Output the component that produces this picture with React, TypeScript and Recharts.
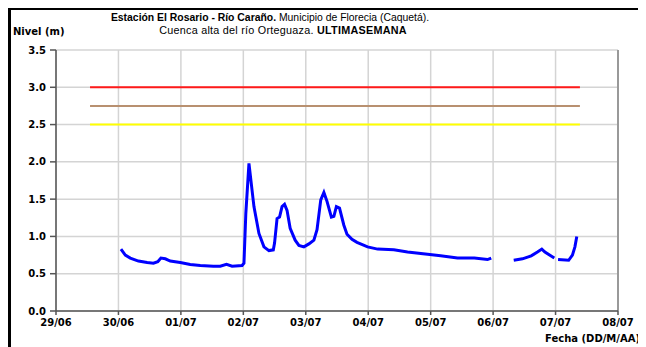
import React from 'react';
import { LineChart, Line, XAxis, YAxis, CartesianGrid, ReferenceLine } from 'recharts';

// Days elapsed since 29/06 00:00
const dias = [1.04, 1.11, 1.19, 1.32, 1.46, 1.56, 1.63, 1.68, 1.75, 1.83, 1.99, 2.15, 2.31, 2.52, 2.63, 2.73, 2.82, 2.98, 3.01, 3.04, 3.09, 3.17, 3.25, 3.33, 3.41, 3.48, 3.5, 3.54, 3.58, 3.62, 3.66, 3.7, 3.75, 3.83, 3.89, 3.97, 4.05, 4.13, 4.18, 4.24, 4.29, 4.34, 4.41, 4.45, 4.49, 4.54, 4.61, 4.66, 4.74, 4.82, 4.99, 5.15, 5.41, 5.63, 5.95, 6.16, 6.43, 6.7, 6.91, 6.97, 7.15, 7.33, 7.47, 7.61, 7.71, 7.78, 7.83, 7.98, 8.01, 8.04, 8.21, 8.27, 8.31, 8.34];
const nivel: (number | null)[] = [0.83, 0.75, 0.71, 0.67, 0.65, 0.64, 0.66, 0.71, 0.7, 0.67, 0.65, 0.625, 0.61, 0.6, 0.6, 0.625, 0.6, 0.61, 0.64, 1.31, 1.98, 1.4, 1.04, 0.86, 0.81, 0.82, 0.91, 1.24, 1.26, 1.4, 1.43, 1.35, 1.11, 0.95, 0.88, 0.86, 0.9, 0.95, 1.09, 1.49, 1.59, 1.47, 1.26, 1.27, 1.4, 1.38, 1.15, 1.03, 0.96, 0.92, 0.86, 0.83, 0.82, 0.79, 0.76, 0.74, 0.71, 0.71, 0.69, 0.71, null, 0.68, 0.7, 0.74, 0.79, 0.83, 0.79, 0.71, null, 0.69, 0.68, 0.75, 0.86, 1.0];

const fechas = ['29/06', '30/06', '01/07', '02/07', '03/07', '04/07', '05/07', '06/07', '07/07', '08/07'];
const nivelTicks = [0, 0.5, 1, 1.5, 2, 2.5, 3, 3.5];

const umbralInicio = 0.545;
const umbralFin = 8.39;
const umbralRojo = 3.0;
const umbralNaranja = 2.75;
const umbralAmarillo = 2.5;

const serie = dias.map((d, i) => ({ x: d, nivel: nivel[i] }));
const mkUmbral = (v: number) => [
  { x: umbralInicio, y: v },
  { x: umbralFin, y: v },
];

const font = "'DejaVu Sans', sans-serif";
const titleFont = "'Liberation Sans', Arial, sans-serif";
const tickStyle = { fontSize: 10, fontWeight: 'bold', fill: '#000', fontFamily: font };

export default function App() {
  return (
    <div style={{ position: 'relative', width: 646, height: 347, marginLeft: -8, marginTop: -8, overflow: 'hidden', background: '#fff' }}>
      <div style={{ position: 'absolute', left: 8, top: 7, width: 700, height: 400, borderTop: '3px solid #000', borderLeft: '3px solid #000' }} />
      <div style={{ position: 'absolute', left: 0, top: 0 }}>
        <LineChart width={646} height={347} margin={{ top: 50, right: 28, left: 21, bottom: 16 }}>
          <CartesianGrid stroke="#d4d4d4" strokeWidth={1.5} />
          <XAxis
            type="number"
            dataKey="x"
            domain={[0, 9]}
            ticks={[0, 1, 2, 3, 4, 5, 6, 7, 8, 9]}
            tickFormatter={(v: number) => fechas[v]}
            allowDataOverflow
            height={20}
            tickSize={4}
            tickMargin={4}
            tick={tickStyle}
            stroke="#555"
            strokeWidth={1.5}
            interval={0}
          />
          <YAxis
            type="number"
            domain={[0, 3.5]}
            ticks={nivelTicks}
            tickFormatter={(v: number) => v.toFixed(1)}
            width={35}
            tickSize={6}
            tickMargin={4}
            tick={tickStyle}
            stroke="#555"
            strokeWidth={1.5}
            interval={0}
          />
          <ReferenceLine x={9} stroke="#999" strokeWidth={2} />
          <Line data={mkUmbral(umbralRojo)} dataKey="y" stroke="#ff1a1a" strokeWidth={2} dot={false} isAnimationActive={false} />
          <Line data={mkUmbral(umbralNaranja)} dataKey="y" stroke="#b89070" strokeWidth={2} dot={false} isAnimationActive={false} />
          <Line data={mkUmbral(umbralAmarillo)} dataKey="y" stroke="#ffff00" strokeWidth={2} dot={false} isAnimationActive={false} />
          <Line data={serie} dataKey="nivel" stroke="#0000ff" strokeWidth={3} dot={false} connectNulls={false} isAnimationActive={false} type="linear" />
        </LineChart>
      </div>
      <div style={{ position: 'absolute', left: 13, top: 26, fontFamily: font, fontSize: 10, fontWeight: 'bold', color: '#000' }}>Nivel (m)</div>
      <div style={{ position: 'absolute', left: 0, width: 540, top: 12, textAlign: 'center', fontFamily: titleFont, color: '#000', lineHeight: '12px', whiteSpace: 'nowrap' }}>
        <div style={{ fontSize: 10.4 }}><b>Estación El Rosario - Río Caraño.</b> Municipio de Florecia (Caquetá).</div>
        <div style={{ marginLeft: 26, fontSize: 10.8, letterSpacing: 0.25 }}>Cuenca alta del río Orteguaza. <b>ULTIMASEMANA</b></div>
      </div>
      <div style={{ position: 'absolute', right: 6, top: 333, fontFamily: font, fontSize: 10, fontWeight: 'bold', color: '#000' }}>Fecha (DD/M/AA)</div>
    </div>
  );
}
